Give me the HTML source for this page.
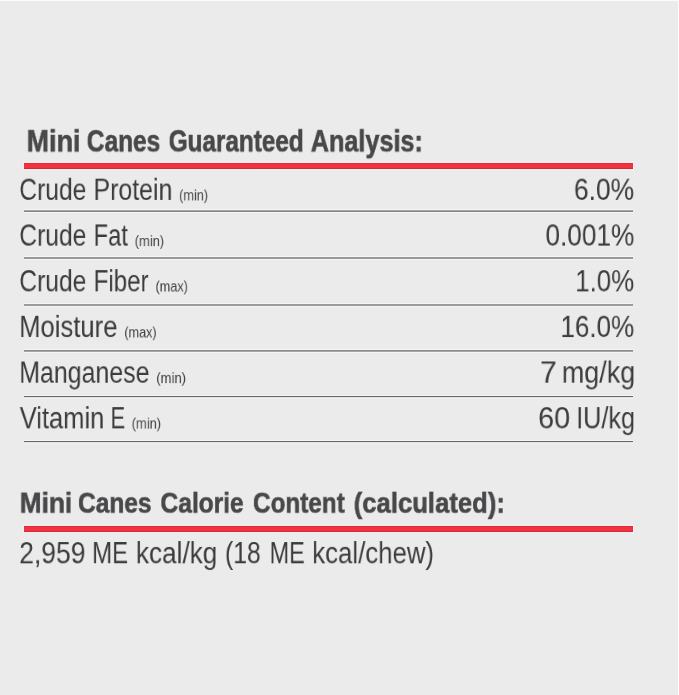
<!DOCTYPE html>
<html>
<head>
<meta charset="utf-8">
<title>Mini Canes Guaranteed Analysis</title>
<style>
html,body{margin:0;padding:0;}
body{width:679px;height:695px;background:#ebebeb;position:relative;overflow:hidden;font-family:"Liberation Sans",sans-serif;}
.t{position:absolute;left:0;top:0;will-change:transform;white-space:nowrap;line-height:1;transform-origin:0 0;}
.h{font-weight:bold;-webkit-text-stroke:0.6px #48484a;}
.x{position:absolute;}
</style>
</head>
<body>
<div class="x" style="left:0;top:0;width:679px;height:1px;background:#fbfbfb"></div>
<div class="x" style="left:678px;top:0;width:1px;height:695px;background:#fcfcfc"></div>
<div class="x" style="left:24px;top:163px;width:609px;height:6px;background:linear-gradient(#cf2836 0,#f13040 1.2px,#f23141 4.6px,#c22433 100%);box-shadow:0 0 1px 1px rgba(250,240,240,.75)"></div>
<div class="x" style="left:24px;top:526px;width:609px;height:5.8px;background:linear-gradient(#cf2836 0,#f13040 1.2px,#f23141 4.6px,#c22433 100%);box-shadow:0 0 1px 1px rgba(250,240,240,.75)"></div>
<div class="x" style="left:24px;top:209px;width:609px;height:4px;background:linear-gradient(#f5f5f5 0 1px,#a4a4a4 1px 2px,#868686 2px 3px,#f5f5f5 3px 4px)"></div>
<div class="x" style="left:24px;top:256px;width:609px;height:4px;background:linear-gradient(#f5f5f5 0 1px,#989898 1px 2px,#989898 2px 3px,#f5f5f5 3px 4px)"></div>
<div class="x" style="left:24px;top:303px;width:609px;height:4px;background:linear-gradient(#f5f5f5 0 1px,#9a9a9a 1px 2px,#9c9c9c 2px 3px,#f5f5f5 3px 4px)"></div>
<div class="x" style="left:24px;top:349px;width:609px;height:4px;background:linear-gradient(#f5f5f5 0 1px,#8a8a8a 1px 2px,#a6a6a6 2px 3px,#f5f5f5 3px 4px)"></div>
<div class="x" style="left:24px;top:395px;width:609px;height:4px;background:linear-gradient(#f5f5f5 0 1px,#686868 1px 2px,#e2e2e2 2px 3px,#f0f0f0 3px 4px)"></div>
<div class="x" style="left:24px;top:440px;width:609px;height:4px;background:linear-gradient(#f5f5f5 0 1px,#686868 1px 2px,#e2e2e2 2px 3px,#f0f0f0 3px 4px)"></div>
<div class="t h" style="font-size:31px;color:#48484a;transform:translate(26.63px,126.25px) scale(0.8693,0.9711)">Mini</div>
<div class="t h" style="font-size:31px;color:#48484a;transform:translate(86.76px,126.23px) scale(0.7901,0.9711)">Canes</div>
<div class="t h" style="font-size:31px;color:#48484a;transform:translate(168.77px,126.23px) scale(0.7832,0.9711)">Guaranteed</div>
<div class="t h" style="font-size:31px;color:#48484a;transform:translate(310.75px,126.25px) scale(0.8134,0.9711)">Analysis:</div>
<div class="t" style="font-size:31px;color:#3c3c3e;transform:translate(19.26px,174.81px) scale(0.7939,0.9657)">Crude</div>
<div class="t" style="font-size:31px;color:#3c3c3e;transform:translate(93.49px,174.81px) scale(0.8032,0.9657)">Protein</div>
<div class="t" style="font-size:16px;color:#424244;transform:translate(179.00px,188.51px) scale(0.8015,0.9144)">(min)</div>
<div class="t" style="font-size:31px;color:#3c3c3e;transform:translate(573.92px,174.80px) scale(0.8536,0.9657)">6.0%</div>
<div class="t" style="font-size:31px;color:#3c3c3e;transform:translate(19.26px,220.52px) scale(0.7939,0.9657)">Crude</div>
<div class="t" style="font-size:31px;color:#3c3c3e;transform:translate(93.59px,220.53px) scale(0.7642,0.9657)">Fat</div>
<div class="t" style="font-size:16px;color:#424244;transform:translate(134.74px,234.26px) scale(0.8088,0.9144)">(min)</div>
<div class="t" style="font-size:31px;color:#3c3c3e;transform:translate(545.45px,220.50px) scale(0.8457,0.9657)">0.001%</div>
<div class="t" style="font-size:31px;color:#3c3c3e;transform:translate(19.26px,266.24px) scale(0.7939,0.9657)">Crude</div>
<div class="t" style="font-size:31px;color:#3c3c3e;transform:translate(93.55px,266.23px) scale(0.7807,0.9657)">Fiber</div>
<div class="t" style="font-size:16px;color:#424244;transform:translate(155.51px,279.64px) scale(0.7923,0.9144)">(max)</div>
<div class="t" style="font-size:31px;color:#3c3c3e;transform:translate(575.16px,266.23px) scale(0.8365,0.9657)">1.0%</div>
<div class="t" style="font-size:31px;color:#3c3c3e;transform:translate(19.19px,311.91px) scale(0.8261,0.9657)">Moisture</div>
<div class="t" style="font-size:16px;color:#424244;transform:translate(124.26px,325.58px) scale(0.7923,0.9144)">(max)</div>
<div class="t" style="font-size:31px;color:#3c3c3e;transform:translate(560.40px,311.93px) scale(0.8403,0.9657)">16.0%</div>
<div class="t" style="font-size:31px;color:#3c3c3e;transform:translate(19.24px,357.58px) scale(0.8041,0.9657)">Manganese</div>
<div class="t" style="font-size:16px;color:#424244;transform:translate(156.23px,371.24px) scale(0.8189,0.9144)">(min)</div>
<div class="t" style="font-size:31px;color:#3c3c3e;transform:translate(539.98px,357.58px) scale(0.9744,0.9657)">7</div>
<div class="t" style="font-size:31px;color:#3c3c3e;transform:translate(561.86px,357.56px) scale(0.8679,0.9657)">mg/kg</div>
<div class="t" style="font-size:31px;color:#3c3c3e;transform:translate(19.74px,403.22px) scale(0.8229,0.9657)">Vitamin</div>
<div class="t" style="font-size:31px;color:#3c3c3e;transform:translate(110.46px,403.24px) scale(0.7144,0.9657)">E</div>
<div class="t" style="font-size:16px;color:#424244;transform:translate(131.74px,416.71px) scale(0.8058,0.9144)">(min)</div>
<div class="t" style="font-size:31px;color:#3c3c3e;transform:translate(538.05px,403.24px) scale(0.9302,0.9657)">60</div>
<div class="t" style="font-size:31px;color:#3c3c3e;transform:translate(576.21px,403.24px) scale(0.8141,0.9657)">IU/kg</div>
<div class="t h" style="font-size:31px;color:#48484a;transform:translate(19.67px,489.08px) scale(0.8488,0.9071)">Mini</div>
<div class="t h" style="font-size:31px;color:#48484a;transform:translate(78.01px,489.08px) scale(0.7902,0.9071)">Canes</div>
<div class="t h" style="font-size:31px;color:#48484a;transform:translate(160.51px,489.08px) scale(0.7908,0.9071)">Calorie</div>
<div class="t h" style="font-size:31px;color:#48484a;transform:translate(253.01px,489.07px) scale(0.7837,0.9071)">Content</div>
<div class="t h" style="font-size:31px;color:#48484a;transform:translate(353.71px,489.09px) scale(0.8280,0.9071)">(calculated):</div>
<div class="t" style="font-size:31px;color:#3c3c3e;transform:translate(19.17px,538.21px) scale(0.8562,0.9657)">2,959</div>
<div class="t" style="font-size:31px;color:#3c3c3e;transform:translate(92.06px,538.14px) scale(0.7765,0.9657)">ME</div>
<div class="t" style="font-size:31px;color:#3c3c3e;transform:translate(135.91px,538.18px) scale(0.8433,0.9657)">kcal/kg</div>
<div class="t" style="font-size:31px;color:#3c3c3e;transform:translate(225.00px,538.14px) scale(0.7988,0.9657)">(18</div>
<div class="t" style="font-size:31px;color:#3c3c3e;transform:translate(269.62px,538.18px) scale(0.7553,0.9657)">ME</div>
<div class="t" style="font-size:31px;color:#3c3c3e;transform:translate(312.18px,538.17px) scale(0.8326,0.9657)">kcal/chew)</div>
</body>
</html>
